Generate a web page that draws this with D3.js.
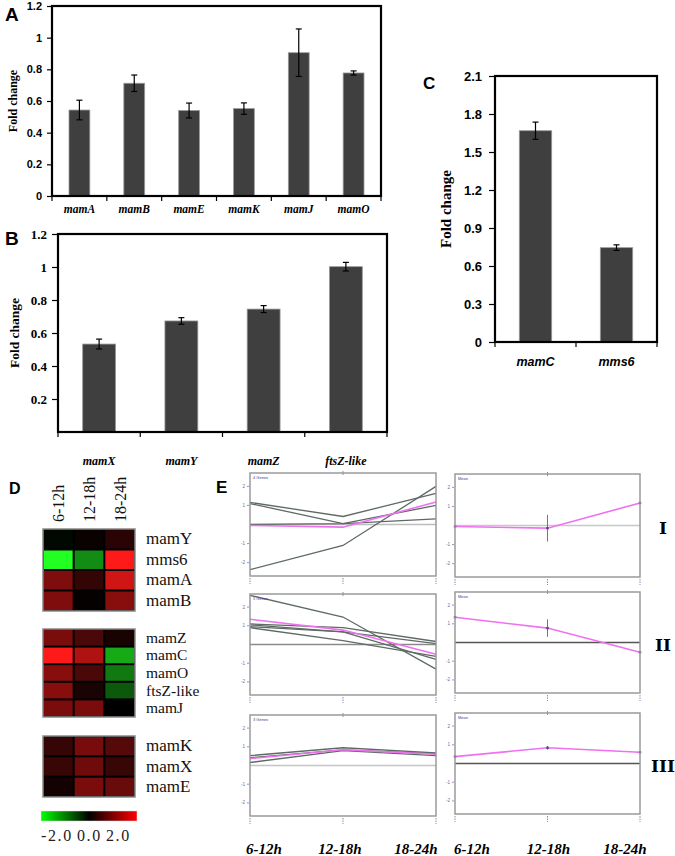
<!DOCTYPE html>
<html><head><meta charset="utf-8">
<script src="https://cdn.jsdelivr.net/npm/d3@7"></script>
<style>body{margin:0;background:#fff}svg{display:block}</style>
</head><body>
<svg id="fig" width="675" height="856"></svg>
<script>
// ---------- DATA ----------
const genesA = ["mamA","mamB","mamE","mamK","mamJ","mamO"];
const valuesA = [0.543,0.712,0.54,0.552,0.905,0.777];
const errorsA = [0.062,0.052,0.047,0.036,0.15,0.013];
const ticksA = [0,0.2,0.4,0.6,0.8,1,1.2];

const genesB = ["mamX","mamY","mamZ","ftsZ-like"];
const valuesB = [0.533,0.673,0.745,1.002];
const errorsB = [0.03,0.02,0.021,0.026];
const ticksB = [0.2,0.4,0.6,0.8,1,1.2];

const genesC = ["mamC","mms6"];
const valuesC = [1.668,0.745];
const errorsC = [0.068,0.022];
const ticksC = [0,0.3,0.6,0.9,1.2,1.5,1.8,2.1];

const heatCols = ["6-12h","12-18h","18-24h"];
const heatRows1 = ["mamY","mms6","mamA","mamB"];
const heatVals1 = [[-0.06,0.08,0.33],[-2.0,-1.1,2.0],[1.0,0.4,1.63],[1.0,0.04,1.07]];
const heatRows2 = ["mamZ","mamC","mamO","ftsZ-like","mamJ"];
const heatVals2 = [[0.96,0.58,0.19],[2.0,1.38,-1.33],[1.07,0.58,-0.96],[1.07,0.2,-0.7],[0.96,0.96,0.0]];
const heatRows3 = ["mamK","mamX","mamE"];
const heatVals3 = [[0.42,0.94,0.67],[0.45,0.88,0.45],[0.16,0.96,0.83]];
const colorbarLabels = ["-2.0","0.0","2.0"];

const timeLabels = ["6-12h","12-18h","18-24h"];
const clusterNames = ["I","II","III"];
const clusterGenes = ["4 Genes","5 Genes","3 Genes"];
const clusterI = [[1.16,0.42,1.63],[1.1,0.05,1.0],[0.0,0.05,0.3],[-2.37,-1.1,2.0]];
const meanI = [-0.05,-0.14,1.18];
const errI = [0,0.7,0];
const clusterII = [[2.63,1.47,-1.32],[1.1,0.9,0.16],[1.05,0.68,0.05],[0.95,0.68,-0.79],[0.9,0.21,-0.63]];
const meanII = [1.35,0.77,-0.52];
const errII = [0,0.47,0];
const clusterIII = [[0.53,0.95,0.68],[0.42,0.84,0.63],[0.16,0.79,0.53]];
const meanIII = [0.37,0.84,0.6];
const errIII = [0,0.1,0];
const eTicks = [-2,-1,1,2];

// ---------- DRAW ----------
const svg = d3.select("#fig");
svg.append("rect").attr("width",675).attr("height",856).attr("fill","#fff");
const SERIF = "'Liberation Serif','Times New Roman',serif";
const SANS = "'Liberation Sans',Arial,sans-serif";

function panelLabel(t,x,y,size){
  svg.append("text").attr("x",x).attr("y",y).text(t)
    .attr("font-family",SANS).attr("font-weight","bold").attr("font-size",size).attr("fill","#000");
}

function barChart(o){
  const g = svg.append("g");
  const x = d3.scaleBand().domain(o.cats).range([o.x0,o.x1]).paddingInner(o.pad).paddingOuter(o.pad/2);
  const y = d3.scaleLinear().domain([0,o.yMax]).range([o.y1,o.y0]);
  g.selectAll("rect.bar").data(o.cats).join("rect")
    .attr("x",d=>x(d)).attr("width",x.bandwidth())
    .attr("y",(d,i)=>y(o.vals[i])).attr("height",(d,i)=>y(0)-y(o.vals[i]))
    .attr("fill","#3f3f3f").attr("stroke","#9a9a9a").attr("stroke-width",0.8);
  const eb = g.selectAll("g.eb").data(o.cats).join("g");
  const cx = d=>x(d)+x.bandwidth()/2;
  eb.append("line").attr("x1",cx).attr("x2",cx)
    .attr("y1",(d,i)=>y(o.vals[i]+o.errs[i])).attr("y2",(d,i)=>y(o.vals[i]-o.errs[i]));
  eb.append("line").attr("x1",d=>cx(d)-3).attr("x2",d=>cx(d)+3)
    .attr("y1",(d,i)=>y(o.vals[i]+o.errs[i])).attr("y2",(d,i)=>y(o.vals[i]+o.errs[i]));
  eb.append("line").attr("x1",d=>cx(d)-3).attr("x2",d=>cx(d)+3)
    .attr("y1",(d,i)=>y(o.vals[i]-o.errs[i])).attr("y2",(d,i)=>y(o.vals[i]-o.errs[i]));
  eb.selectAll("line").attr("stroke","#000").attr("stroke-width",1.2);
  g.append("rect").attr("x",o.x0).attr("y",o.y0).attr("width",o.x1-o.x0).attr("height",o.y1-o.y0)
    .attr("fill","none").attr("stroke","#000").attr("stroke-width",2.2);
  const ya = g.append("g").attr("transform",`translate(${o.x0},0)`)
    .call(d3.axisLeft(y).tickValues(o.ticks).tickSize(o.tickSize).tickPadding(o.tickPad).tickFormat(d=>String(d)));
  ya.select(".domain").remove();
  ya.selectAll("line").attr("stroke","#000").attr("stroke-width",1.2);
  ya.selectAll("text").attr("font-family",o.tickFamily).attr("font-weight","bold")
    .attr("font-size",o.tickFont).attr("fill","#000");
  const step = x.step();
  const bounds = d3.range(o.cats.length+1).map(i=>x(o.cats[0]) - (step - x.bandwidth())/2 + i*step);
  g.selectAll("line.xt").data(bounds).join("line")
    .attr("x1",d=>d).attr("x2",d=>d).attr("y1",o.y1).attr("y2",o.y1+5)
    .attr("stroke","#000").attr("stroke-width",1.2);
  g.selectAll("text.xl").data(o.cats).join("text")
    .attr("x",cx).attr("y",o.y1+o.labelDy).attr("text-anchor","middle")
    .attr("font-family",o.labelFamily).attr("font-style","italic").attr("font-weight","bold")
    .attr("font-size",o.labelFont).text(d=>d);
  g.append("text").attr("transform",`translate(${o.titleX},${(o.y0+o.y1)/2}) rotate(-90)`)
    .attr("text-anchor","middle").attr("font-family",SERIF).attr("font-weight","bold")
    .attr("font-size",o.titleFont).text("Fold change");
}

panelLabel("A",5,21,19);
barChart({x0:52,x1:381,y0:6,y1:196,cats:genesA,vals:valuesA,errs:errorsA,ticks:ticksA,yMax:1.2,pad:0.62,
  tickSize:5,tickPad:5,tickFamily:SANS,tickFont:11,labelFamily:SERIF,labelFont:11.5,labelDy:17,titleX:17,titleFont:12});

panelLabel("B",5,245,19);
barChart({x0:58,x1:387,y0:234,y1:432,cats:genesB,vals:valuesB,errs:errorsB,ticks:ticksB,yMax:1.2,pad:0.6,
  tickSize:6,tickPad:5,tickFamily:SERIF,tickFont:13,labelFamily:SERIF,labelFont:12,labelDy:33,titleX:19,titleFont:13.5});

panelLabel("C",423,89,17);
barChart({x0:495,x1:657,y0:76,y1:342,cats:genesC,vals:valuesC,errs:errorsC,ticks:ticksC,yMax:2.1,pad:0.6,
  tickSize:6,tickPad:7,tickFamily:SANS,tickFont:13,labelFamily:SANS,labelFont:12.5,labelDy:24,titleX:451,titleFont:15});

// ---------- D heatmap ----------
panelLabel("D",9,494,16);
const heatColor = d3.scaleLinear().domain([-2,0,2]).range(["#22ff22","#000000","#ff1a1a"]).clamp(true);
function heatGroup(rows, vals, x0, x1, y0, y1, fs){
  const g = svg.append("g");
  const xs = d3.scaleBand().domain(heatCols).range([x0,x1]);
  const ys = d3.scaleBand().domain(rows).range([y0,y1]);
  g.append("rect").attr("x",x0).attr("y",y0).attr("width",x1-x0).attr("height",y1-y0)
    .attr("fill","#000").attr("stroke","#8a8a8a").attr("stroke-width",1.5);
  rows.forEach((r,i)=>{
    heatCols.forEach((c,j)=>{
      g.append("rect").attr("x",xs(c)+1).attr("y",ys(r)+1)
        .attr("width",xs.bandwidth()-2).attr("height",ys.bandwidth()-2)
        .attr("fill",heatColor(vals[i][j]));
    });
    g.append("text").attr("x",x1+11).attr("y",ys(r)+ys.bandwidth()/2+5)
      .attr("font-family",SERIF).attr("font-size",fs).attr("fill","#111").text(r);
  });
  return xs;
}
const hx = heatGroup(heatRows1, heatVals1, 43, 135, 529, 611, 17);
heatGroup(heatRows2, heatVals2, 43, 135, 629, 717, 15.5);
heatGroup(heatRows3, heatVals3, 43, 135, 736, 797, 17);
heatCols.forEach(c=>{
  svg.append("text").attr("transform",`translate(${hx(c)+hx.bandwidth()/2+6},522) rotate(-90)`)
    .attr("font-family",SERIF).attr("font-size",16).attr("fill","#111").text(c);
});
const defs = svg.append("defs");
const grad = defs.append("linearGradient").attr("id","cbar");
[["0%","#00ff00"],["50%","#000000"],["100%","#ff0000"]].forEach(s=>
  grad.append("stop").attr("offset",s[0]).attr("stop-color",s[1]));
svg.append("rect").attr("x",41).attr("y",811).attr("width",96).attr("height",10)
  .attr("fill","url(#cbar)").attr("stroke","#ddd").attr("stroke-width",0.5);
const cbX = [41,77,106];
colorbarLabels.forEach((t,i)=>{
  svg.append("text").attr("x",cbX[i]).attr("y",841).attr("font-family",SERIF)
    .attr("font-size",16).attr("fill","#222").attr("letter-spacing",1.6).text(t);
});

// ---------- E profiles ----------
panelLabel("E",216,493,17);
function profilePanel(o){
  const g = svg.append("g");
  const x = d3.scalePoint().domain(timeLabels).range([o.x0,o.x1]);
  const y = d3.scaleLinear().domain([-2.7,2.7]).range([o.y1,o.y0]);
  eTicks.forEach(t=>{
    g.append("line").attr("x1",o.x0-3).attr("x2",o.x0-1).attr("y1",y(t)).attr("y2",y(t))
      .attr("stroke","#7a7ab0").attr("stroke-width",0.8);
    g.append("text").attr("x",o.x0-5).attr("y",y(t)+1.5).attr("text-anchor","end")
      .attr("font-family",SANS).attr("font-size",4.5).attr("fill","#6a6aa8").text(t);
  });
  timeLabels.forEach(t=>{
    g.append("line").attr("x1",x(t)).attr("x2",x(t)).attr("y1",o.y1+2).attr("y2",o.y1+8)
      .attr("stroke","#8a8ab8").attr("stroke-width",1).attr("stroke-dasharray","1.5,1");
  });
  g.append("line").attr("x1",x(timeLabels[1])).attr("x2",x(timeLabels[1])).attr("y1",o.y0-2).attr("y2",o.y0+2)
    .attr("stroke","#8a8ab8").attr("stroke-width",1);
  g.append("line").attr("x1",o.x0).attr("x2",o.x1).attr("y1",y(0)).attr("y2",y(0))
    .attr("stroke",o.zeroColor).attr("stroke-width",1.5);
  const line = d3.line().x((d,i)=>x(timeLabels[i])).y(d=>y(d));
  if(o.lines){
    o.lines.forEach(l=>{
      g.append("path").attr("d",line(l)).attr("fill","none").attr("stroke","#5e6a64").attr("stroke-width",1.3);
    });
  }
  g.append("path").attr("d",line(o.mean)).attr("fill","none").attr("stroke","#f070f0").attr("stroke-width",1.6);
  if(o.err){
    o.err.forEach((e,i)=>{
      if(e>0){
        g.append("line").attr("x1",x(timeLabels[i])).attr("x2",x(timeLabels[i]))
          .attr("y1",y(o.mean[i]+e)).attr("y2",y(o.mean[i]-e))
          .attr("stroke","#7070a8").attr("stroke-width",1);
      }
      g.append("rect").attr("x",x(timeLabels[i])-1.2).attr("y",y(o.mean[i])-1.2)
        .attr("width",2.4).attr("height",2.4).attr("fill","#4a4a8a");
    });
  }
  g.append("rect").attr("x",o.x0).attr("y",o.y0).attr("width",o.x1-o.x0).attr("height",o.y1-o.y0)
    .attr("fill","none").attr("stroke","#9a9a9a").attr("stroke-width",1.5);
  g.append("text").attr("x",o.x0+3).attr("y",o.y0+6).attr("font-family",SANS)
    .attr("font-size",4).attr("fill","#3a3a9a").text(o.tag);
}
const leftY = [[473,576],[594,695],[715,816]];
const rightY = [[474,577],[592,693],[713,814]];
const clusters = [clusterI,clusterII,clusterIII];
const means = [meanI,meanII,meanIII];
const errs = [errI,errII,errIII];
const zeroL = ["#bdbdbd","#8a8a8a","#c4c4c4"];
const zeroR = ["#c8c8c8","#555555","#555555"];
[0,1,2].forEach(k=>{
  profilePanel({x0:250,x1:436,y0:leftY[k][0],y1:leftY[k][1],lines:clusters[k],mean:means[k],
    zeroColor:zeroL[k],tag:clusterGenes[k]});
  profilePanel({x0:455,x1:640,y0:rightY[k][0],y1:rightY[k][1],mean:means[k],err:errs[k],
    zeroColor:zeroR[k],tag:"Mean"});
  svg.append("text").attr("x",663).attr("y",(rightY[k][0]+rightY[k][1])/2+8).attr("text-anchor","middle")
    .attr("font-family","'DejaVu Serif',serif").attr("font-weight","bold").attr("font-size",17)
    .attr("fill","#000").text(clusterNames[k]);
});
const bx = d3.scalePoint().domain(timeLabels).range([264,416]);
const bx2 = d3.scalePoint().domain(timeLabels).range([472,625]);
timeLabels.forEach(t=>{
  [bx,bx2].forEach(s=>{
    svg.append("text").attr("x",s(t)).attr("y",854).attr("text-anchor","middle")
      .attr("font-family",SERIF).attr("font-style","italic").attr("font-weight","bold")
      .attr("font-size",15).attr("fill","#000").text(t);
  });
});
</script>
</body></html>
